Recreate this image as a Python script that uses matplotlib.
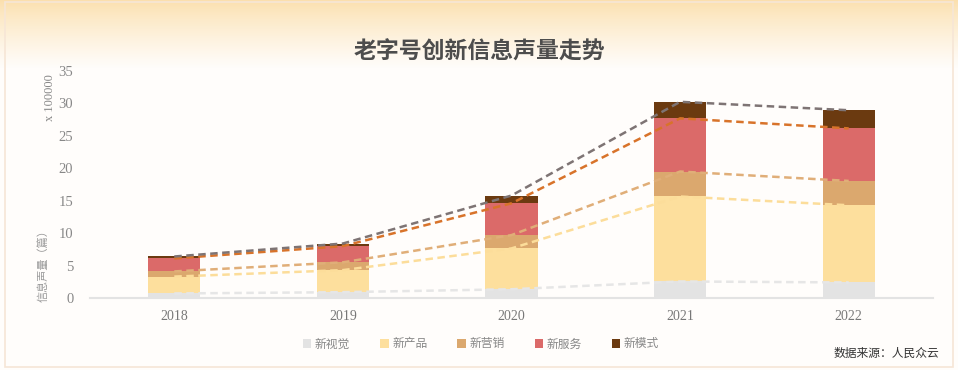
import numpy as np
import matplotlib
matplotlib.use("Agg")
import matplotlib.pyplot as plt
from matplotlib.patches import Rectangle
from matplotlib.colors import to_rgb

plt.rcParams['font.family'] = ['Noto Sans CJK SC', 'DejaVu Sans']

years = ['2018', '2019', '2020', '2021', '2022']
series_names = ['新视觉', '新产品', '新营销', '新服务', '新模式']
visual = [0.7, 0.9, 1.35, 2.55, 2.4]
product = [2.6, 3.4, 6.3, 13.1, 11.9]
marketing = [0.8, 1.2, 2.05, 3.85, 3.75]
service = [2.0, 2.5, 4.9, 8.2, 8.1]
mode = [0.3, 0.4, 1.2, 2.55, 2.8]
yticks = [0, 5, 10, 15, 20, 25, 30, 35]

bar_colors = ['#E3E3E3', '#FDDF9D', '#DBA86E', '#DB6A69', '#6B3A10']
line_colors = ['#E6E6E6', '#FCDD9A', '#E0AE78', '#D8732A', '#7E7474']

W, H = 958, 370
fig = plt.figure(figsize=(W / 100, H / 100), dpi=100)

# background with gradient header
bg = fig.add_axes([0, 0, 1, 1])
bg.axis('off')
top = np.array(to_rgb('#FBDFAC'))
bot = np.array(to_rgb('#FFFDFB'))
t = np.linspace(0, 1, 200)[:, None]
fade = t ** 0.8
grad = top[None, :] * (1 - fade) + bot[None, :] * fade
grad = np.repeat(grad[:, None, :], 2, axis=1)
bg.add_patch(Rectangle((0, 0), W, H, color='#FFFDFB', zorder=0))
bg.imshow(grad, extent=(0, W, 68, 0), aspect='auto', zorder=1)
bg.add_patch(Rectangle((5, 2), W - 10, H - 5, fill=False, edgecolor='#F6E6D6', lw=1.2, zorder=2))
bg.set_xlim(0, W)
bg.set_ylim(H, 0)

fig.text(479 / W, 1 - 52 / H, '老字号创新信息声量走势', ha='center', va='center',
         fontsize=16.5, fontweight='bold', color='#4D4D4D')

ax = fig.add_axes([90 / W, 72 / H, 843 / W, 227 / H])
ax.patch.set_alpha(0)
x = np.arange(len(years))
data = [visual, product, marketing, service, mode]
bottom = np.zeros(len(years))
cums = []
for vals, c, name in zip(data, bar_colors, series_names):
    vals = np.array(vals)
    ax.bar(x, vals, bottom=bottom, width=0.31, color=c, label=name, zorder=2)
    bottom = bottom + vals
    cums.append(bottom.copy())
for cum, lc in zip(cums, line_colors):
    ax.plot(x, cum, ls=(0, (3, 1.8)), color=lc, lw=1.8, zorder=3)

ax.set_xlim(-0.5, len(years) - 0.5)
ax.set_ylim(0, 35)
ax.set_yticks(yticks)
ax.set_yticklabels([str(v) for v in yticks], family='Liberation Serif', fontsize=10.5, color='#888888')
ax.set_xticks(x)
ax.set_xticklabels(years, family='Liberation Serif', fontsize=10, color='#777777')
ax.tick_params(axis='both', length=0)
ax.tick_params(axis='y', pad=12)
ax.tick_params(axis='x', pad=9)
for s in ['left', 'right', 'top']:
    ax.spines[s].set_visible(False)
ax.spines['bottom'].set_color('#E3E3E3')
ax.spines['bottom'].set_linewidth(1.5)

fig.text(50 / W, 1 - 98 / H, 'x 100000', rotation=90, ha='center', va='center',
         family='Liberation Serif', fontsize=9, color='#888888')
fig.text(43 / W, 1 - 263 / H, '信息声量（篇）', rotation=90, ha='center', va='center',
         fontsize=8, color='#999999')

handles, labels = ax.get_legend_handles_labels()
leg = fig.legend(handles, labels, loc='center', bbox_to_anchor=(481 / W, 1 - 344 / H),
                 ncol=5, frameon=False, fontsize=8.5, handlelength=0.7, handleheight=0.7,
                 handletextpad=0.3, columnspacing=2.55, labelcolor='#888888')

fig.text(939 / W, 1 - 353 / H, '数据来源：人民众云', ha='right', va='center',
         fontsize=8.5, color='#333333')

fig.savefig('out.png', dpi=100)
